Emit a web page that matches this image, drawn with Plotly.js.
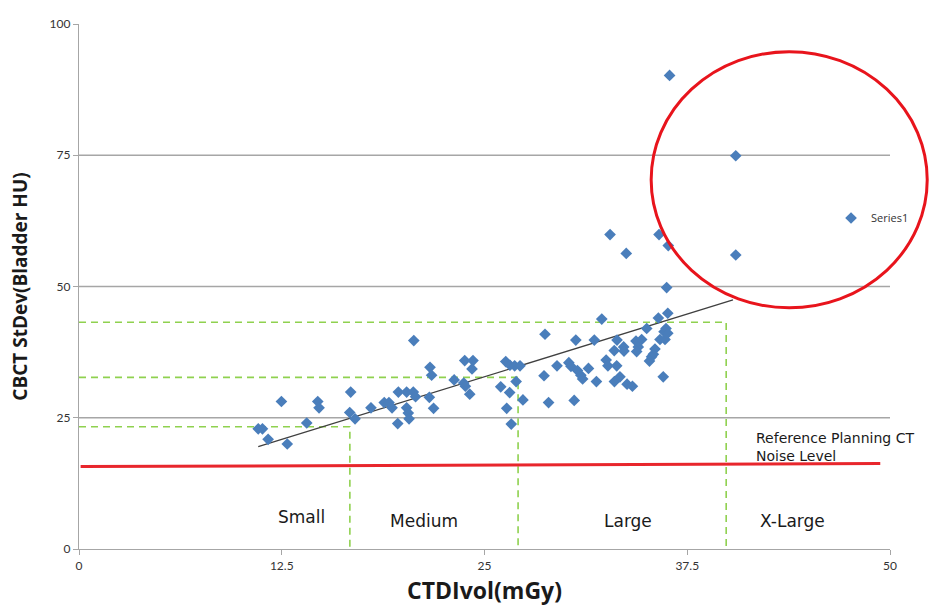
<!DOCTYPE html>
<html>
<head>
<meta charset="utf-8">
<script src="https://cdn.plot.ly/plotly-3.0.1.min.js"></script>
<style>html,body{margin:0;padding:0;background:#fff;}#chart{width:941px;height:606px;}</style>
</head>
<body>
<div id="chart"></div>
<script>
// CTDIvol (mGy) of each scan
const ctdiVol = [11.05,11.31,11.66,12.84,12.48,14.04,14.72,14.80,16.75,16.69,17.02,18.00,18.82,19.11,19.30,19.65,19.69,20.20,20.61,20.75,20.20,20.30,20.35,20.64,21.64,21.74,21.60,21.86,23.13,23.72,23.82,24.09,23.78,24.29,24.23,26.00,26.55,26.37,26.65,27.37,26.31,26.57,26.86,27.19,26.95,28.67,28.95,28.73,29.47,30.20,30.33,30.73,30.94,31.05,31.41,31.90,30.53,30.63,31.77,32.23,32.50,32.61,33.15,33.01,33.35,33.79,34.12,33.17,33.00,33.58,33.60,34.34,34.48,34.38,34.69,35.00,35.72,36.30,36.19,36.07,36.30,35.82,36.13,35.51,35.41,35.30,35.17,36.02,32.74,33.74,35.76,36.33,36.23,36.41,40.49,40.49];
// CBCT StDev (bladder HU) of each scan
const cbctStDev = [22.9,22.9,20.9,20.0,28.1,24.0,28.1,26.9,29.9,26.0,24.8,26.9,27.9,27.9,26.9,23.9,29.9,29.9,29.9,29.0,26.9,25.9,24.8,39.7,34.6,33.1,28.9,26.8,32.2,31.6,31.0,29.5,35.9,35.9,34.3,30.9,29.8,26.8,23.8,28.4,35.7,35.0,34.9,34.9,31.9,33.0,27.9,40.9,34.9,35.5,34.8,34.0,33.1,32.4,34.4,31.9,28.3,39.8,39.8,43.8,36.0,34.9,34.9,31.9,32.8,31.4,31.0,39.8,37.8,38.5,37.7,39.6,38.5,37.6,39.9,42.0,44.0,44.9,42.0,41.4,41.1,39.9,39.9,38.1,37.1,36.6,35.8,32.8,59.9,56.3,59.9,57.8,49.8,90.2,74.9,56.0];
// linear trend line end points
const trendX = [11.05, 40.32];
const trendY = [19.49, 47.43];
// reference planning CT noise level line
const refX = [0.1, 49.4];
const refY = [15.7, 16.3];
// patient size category boundaries (CTDIvol) and matching noise levels
const sizeBoundCTDI = [16.7, 27.07, 39.9];
const sizeBoundNoise = [23.3, 32.7, 43.2];
const sizeLabels = ['Small', 'Medium', 'Large', 'X-Large'];
const xTicks = [0, 12.5, 25, 37.5, 50];
const xTickText = ['0', '12.5', '25', '37.5', '50'];
const yTicks = [0, 25, 50, 75, 100];
const gridLevels = [25, 50, 75];

const traces = [];
// green dashed category guides
sizeBoundCTDI.forEach((bx, i) => {
  traces.push({
    x: [0, bx, bx], y: [sizeBoundNoise[i], sizeBoundNoise[i], 0],
    mode: 'lines', type: 'scatter', showlegend: false, hoverinfo: 'skip',
    line: {color: '#8fd14f', width: 1.6, dash: '7px,5px'}
  });
});
traces.push({
  x: refX, y: refY, mode: 'lines', type: 'scatter', showlegend: false, hoverinfo: 'skip',
  line: {color: '#e8262c', width: 3}
});
traces.push({
  x: trendX, y: trendY, mode: 'lines', type: 'scatter', showlegend: false, hoverinfo: 'skip',
  line: {color: '#404040', width: 1.3}
});
traces.push({
  x: ctdiVol, y: cbctStDev, mode: 'markers', type: 'scatter', name: 'Series1',
  marker: {symbol: 'diamond', size: 9, color: '#4a7ebb'}
});

const shapes = gridLevels.map(g => ({
  type: 'line', xref: 'x', yref: 'y', x0: 0, x1: 50.2, y0: g, y1: g,
  line: {color: '#a6a6a6', width: 1.3}, layer: 'below'
}));
shapes.push({
  type: 'circle', xref: 'paper', yref: 'paper',
  x0: 0.7055, x1: 1.0459, y0: 0.4594, y1: 0.9472,
  line: {color: '#e8141c', width: 3}
});

const labelPos = [[13.69, 6.1], [21.27, 5.3], [33.85, 5.3], [43.96, 5.3]];
const annotations = sizeLabels.map((t, i) => ({
  text: t, x: labelPos[i][0], y: labelPos[i][1], xref: 'x', yref: 'y',
  showarrow: false, font: {family: 'DejaVu Sans, sans-serif', size: 17, color: '#1a1a1a'}
}));
annotations.push({
  text: 'Reference Planning CT<br>Noise Level', x: 41.6, y: 19.4, xref: 'x', yref: 'y',
  xanchor: 'left', yanchor: 'middle', align: 'left', showarrow: false,
  font: {family: 'DejaVu Sans, sans-serif', size: 14, color: '#1a1a1a'}
});

const layout = {
  width: 941, height: 606,
  margin: {l: 79, r: 51, t: 24, b: 57},
  paper_bgcolor: '#ffffff', plot_bgcolor: '#ffffff',
  font: {family: 'Lato, sans-serif', color: '#333'},
  xaxis: {
    range: [0, 50], tickvals: xTicks, ticktext: xTickText, showgrid: false, zeroline: false,
    showline: true, linecolor: '#a6a6a6', linewidth: 1.3, ticks: 'outside', ticklen: 5, tickcolor: '#a6a6a6',
    tickfont: {size: 12, color: '#333'},
    title: {text: '<b>CTDIvol(mGy)</b>', standoff: 16, font: {family: 'Open Sans, sans-serif', size: 23, color: '#1a1a1a'}}
  },
  yaxis: {
    range: [0, 100], tickvals: yTicks, showgrid: false, zeroline: false,
    showline: true, linecolor: '#a6a6a6', linewidth: 1.3, ticks: 'outside', ticklen: 5, tickcolor: '#a6a6a6',
    tickfont: {size: 12, color: '#333'},
    title: {text: '<b>CBCT StDev(Bladder HU)</b>', standoff: 16, font: {family: 'Open Sans, sans-serif', size: 19, color: '#1a1a1a'}}
  },
  showlegend: true,
  legend: {x: 0.9273, y: 0.6305, xanchor: 'left', yanchor: 'middle', bgcolor: 'rgba(0,0,0,0)',
    font: {family: 'Open Sans, sans-serif', size: 11, color: '#333'}},
  shapes: shapes,
  annotations: annotations
};

Plotly.newPlot('chart', traces, layout, {displayModeBar: false, responsive: false});
</script>
</body>
</html>
